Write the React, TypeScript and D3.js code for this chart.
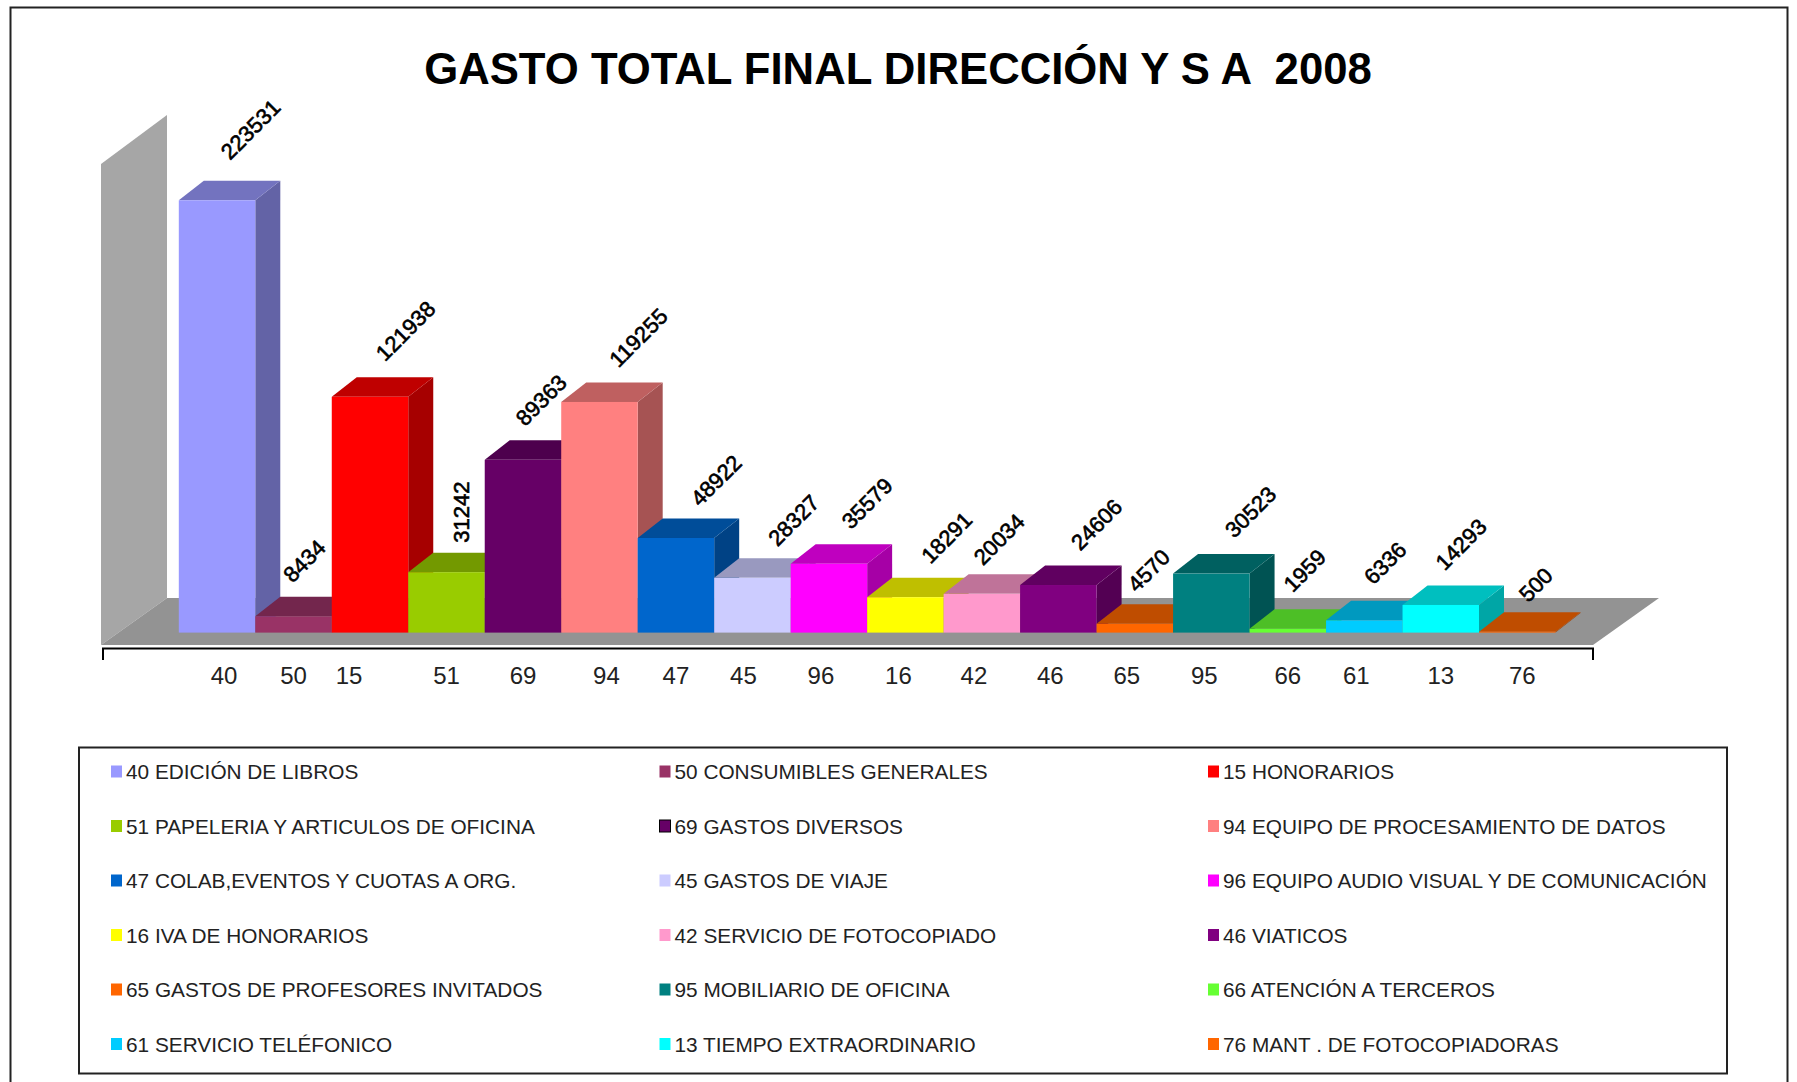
import React, { useEffect, useRef } from 'react';
import * as d3 from 'd3';

const title = 'GASTO TOTAL FINAL DIRECCIÓN Y S A  2008';

// partida codes in chart order
const codes = ['40', '50', '15', '51', '69', '94', '47', '45', '96', '16', '42', '46', '65', '95', '66', '61', '13', '76'];

const names = [
  'EDICIÓN DE LIBROS', 'CONSUMIBLES GENERALES', 'HONORARIOS',
  'PAPELERIA Y ARTICULOS DE OFICINA', 'GASTOS DIVERSOS', 'EQUIPO DE PROCESAMIENTO DE DATOS',
  'COLAB,EVENTOS Y CUOTAS A ORG.', 'GASTOS DE VIAJE', 'EQUIPO AUDIO VISUAL Y DE COMUNICACIÓN',
  'IVA DE HONORARIOS', 'SERVICIO DE FOTOCOPIADO', 'VIATICOS',
  'GASTOS DE PROFESORES INVITADOS', 'MOBILIARIO DE OFICINA', 'ATENCIÓN A TERCEROS',
  'SERVICIO TELÉFONICO', 'TIEMPO EXTRAORDINARIO', 'MANT . DE FOTOCOPIADORAS',
];

const values = [223531, 8434, 121938, 31242, 89363, 119255, 48922, 28327, 35579, 18291, 20034, 24606, 4570, 30523, 1959, 6336, 14293, 500];

const colors = [
  '#9999FF', '#993366', '#FF0000', '#99CC00', '#660066', '#FF8080',
  '#0066CC', '#CCCCFF', '#FF00FF', '#FFFF00', '#FF99CC', '#800080',
  '#FF6600', '#008080', '#66FF33', '#00CCFF', '#00FFFF', '#FF6600',
];

const WIDTH = 1797;
const HEIGHT = 1082;
const FONT = '"Liberation Sans", Arial, sans-serif';

// layout of the 3d box
const base = 632.6;
const depthX = 25;
const depthY = 19.5;
const plot = { left: 101, right: 1593, floorFront: 645, top: 164 };

// the labels in the original were moved by hand, so they sit off their bars
const tickNudge = [7, 0, -21, 0, 0, 7, 0, -9, -8, -7, -8, -8, -8, -7, 0, -8, 0, 5];
const labelNudge: [number, number][] = [
  [13, -20], [-1, -13], [15, -15], [23, -10], [2, -13], [19, -14],
  [24, -11], [25, -11], [22, -14], [25, -13], [1, -8], [22, -14],
  [2, -11], [23, -15], [5, -16], [9, -15], [4, -14], [11, -9],
];

function shade(color: string, k: number) {
  const c = d3.rgb(color);
  return d3.rgb(c.r * k, c.g * k, c.b * k).formatHex();
}

function App() {
  const svgRef = useRef<SVGSVGElement>(null);

  useEffect(() => {
    const svg = d3.select(svgRef.current);
    svg.selectAll('*').remove();

    const x = d3.scaleBand<string>().domain(codes).range([178.8, 1555.5]);
    const y = d3.scaleLinear().domain([0, 250000]).range([base, base - 483.5]);
    const line = d3.line();

    // outer frame, runs off the bottom of the page
    svg.append('rect')
      .attr('x', 10.5).attr('y', 7.5)
      .attr('width', 1777).attr('height', 1200)
      .attr('fill', 'white').attr('stroke', '#222').attr('stroke-width', 2);

    svg.append('text')
      .attr('x', 898).attr('y', 83.5)
      .attr('text-anchor', 'middle')
      .attr('font-family', FONT).attr('font-weight', 'bold').attr('font-size', 43.7)
      .style('white-space', 'pre')
      .text(title);

    // wall and floor
    const backX = plot.left + 66;
    const backY = plot.floorFront - 47;
    svg.append('path')
      .attr('d', line([[plot.left, plot.top], [backX, plot.top - 49], [backX, backY], [plot.left, plot.floorFront]]) + 'Z')
      .attr('fill', '#A6A6A6');
    svg.append('path')
      .attr('d', line([[plot.left, plot.floorFront], [backX, backY], [plot.right + 66, backY], [plot.right, plot.floorFront]]) + 'Z')
      .attr('fill', '#939393');

    // bars, left to right so each one covers the side of the one before
    const bars = svg.append('g');
    codes.forEach((code, i) => {
      const x0 = x(code)!;
      const x1 = x0 + x.bandwidth();
      const top = y(values[i]);
      bars.append('path')
        .attr('d', line([[x1, top], [x1 + depthX, top - depthY], [x1 + depthX, base - depthY], [x1, base]]) + 'Z')
        .attr('fill', shade(colors[i], 0.65));
      bars.append('path')
        .attr('d', line([[x0, top], [x0 + depthX, top - depthY], [x1 + depthX, top - depthY], [x1, top]]) + 'Z')
        .attr('fill', shade(colors[i], 0.75));
      bars.append('rect')
        .attr('x', x0).attr('y', top)
        .attr('width', x.bandwidth()).attr('height', base - top)
        .attr('fill', colors[i]);
    });

    // value labels
    svg.append('g').selectAll('text')
      .data(values)
      .join('text')
      .attr('transform', (d, i) => {
        const px = x(codes[i])! + x.bandwidth() / 2 + labelNudge[i][0];
        const py = y(d) - depthY + labelNudge[i][1];
        return `translate(${px},${py}) rotate(${codes[i] === '51' ? -90 : -45})`;
      })
      .attr('font-family', FONT).attr('font-size', 22)
      .attr('fill', 'black').attr('stroke', 'black').attr('stroke-width', 0.6)
      .text(d => d);

    // category axis
    const axis = svg.append('g')
      .attr('transform', 'translate(0,648.6)')
      .call(d3.axisBottom(x).tickSize(0).tickPadding(18.5));
    axis.select('.domain').remove();
    axis.selectAll<SVGTextElement, string>('text')
      .attr('font-family', FONT).attr('font-size', 24).attr('fill', '#222')
      .attr('dx', (d, i) => tickNudge[i]);
    svg.append('path')
      .attr('d', `M${plot.left + 2},660V648.6H${plot.right}V660`)
      .attr('fill', 'none').attr('stroke', 'black').attr('stroke-width', 2);

    // legend
    svg.append('rect')
      .attr('x', 79).attr('y', 747.5)
      .attr('width', 1648).attr('height', 326)
      .attr('fill', 'white').attr('stroke', '#222').attr('stroke-width', 2);

    const colX = d3.scalePoint<number>().domain([0, 1, 2]).range([111, 1208]);
    const rowY = d3.scalePoint<number>().domain([0, 1, 2, 3, 4, 5]).range([771.5, 1044]);
    const legend = svg.append('g').selectAll('g')
      .data(codes)
      .join('g')
      .attr('transform', (d, i) => `translate(${colX(i % 3)},${rowY(Math.floor(i / 3))})`);
    legend.append('rect')
      .attr('x', 0).attr('y', -6)
      .attr('width', 11).attr('height', 12)
      .attr('fill', (d, i) => colors[i])
      .attr('stroke', (d, i) => (codes[i] === '69' ? 'black' : 'none'));
    legend.append('text')
      .attr('x', 15).attr('y', 7.5)
      .attr('font-family', FONT).attr('font-size', 20.8).attr('fill', '#222')
      .text((d, i) => `${d} ${names[i]}`);
  }, []);

  return (
    <svg
      ref={svgRef}
      width={WIDTH}
      height={HEIGHT}
      style={{ position: 'absolute', left: 0, top: 0, display: 'block' }}
    />
  );
}

export default App;
